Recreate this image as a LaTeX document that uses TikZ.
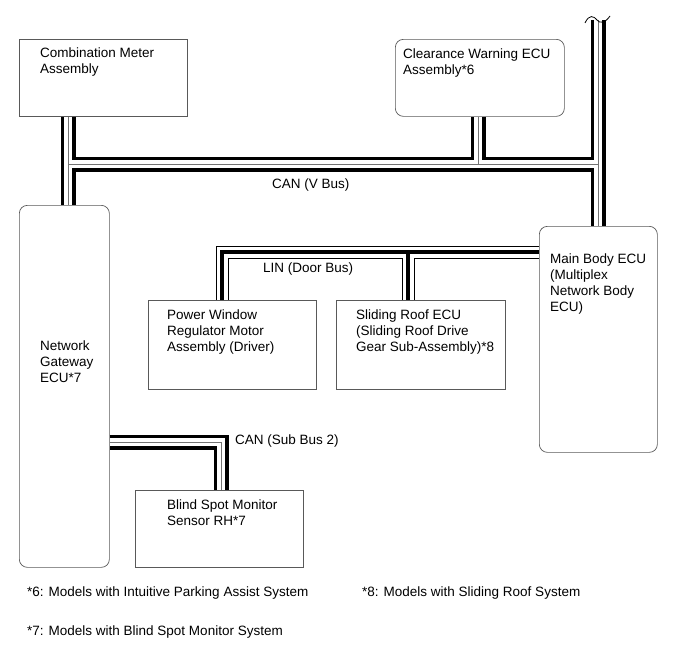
\documentclass[tikz,border=0pt]{standalone}
\usepackage{fontspec}
\setmainfont{Liberation Sans}
\usetikzlibrary{positioning, backgrounds}

\begin{document}
\begin{tikzpicture}[
  x=1pt, y=-1pt,
  box/.style   = {draw=black!65, line width=0.7pt, fill=white, inner sep=0pt,
                  anchor=north west},
  rbox/.style  = {box, rounded corners=8pt},
  txt/.style   = {font=\fontsize{13.5}{16}\selectfont, align=left, inner sep=0pt},
  lbl/.style   = {font=\fontsize{13.5}{16}\selectfont, inner sep=0pt, anchor=west},
  canout/.style   = {line width=15pt, black},
  canwhite/.style = {line width=8pt, white},
  cancore/.style  = {line width=0.8pt, black!55},
  linout/.style   = {line width=13pt, black},
  linwhite/.style = {line width=11pt, white},
  lincore/.style  = {line width=4pt, black},
]
\useasboundingbox (0,0) rectangle (690,659);

% ── Bus junction points ──────────────────────────────────────────────────────
\coordinate (cm)   at (68,164);
\coordinate (cw)   at (478,164);
\coordinate (cv)   at (598,164);
\coordinate (vtop) at (598,20);
\coordinate (lp)   at (222,252);
\coordinate (ls)   at (408,252);
\coordinate (sb)   at (221,442);

% ── ECU boxes ────────────────────────────────────────────────────────────────
\node[box,  minimum width=168pt, minimum height=77pt]  (meter)    at (19,39)  {};
\node[rbox, minimum width=169pt, minimum height=77pt]  (clear)    at (395,39) {};
\node[rbox, minimum width=90pt,  minimum height=362pt] (gateway)  at (19,205) {};
\node[box,  minimum width=168pt, minimum height=89pt]  (power)    at (148,300) {};
\node[box,  minimum width=169pt, minimum height=89pt]  (slide)    at (336,300) {};
\node[rbox, minimum width=118pt, minimum height=226pt] (mainbody) at (539,226) {};
\node[box,  minimum width=168pt, minimum height=77pt]  (blind)    at (135,490) {};

% ── Buses: black tube, white inside, core (behind the boxes) ─────────────────
\begin{scope}[on background layer]
\foreach \s in {out, white, core} {
  % CAN (V Bus)
  \draw[can\s] (meter.south -| cm) -- (gateway.north -| cm);
  \draw[can\s] (cm) -- (cv);
  \draw[can\s] (clear.south -| cw) -- (cw);
  \draw[can\s] (vtop) -- (mainbody.north -| cv);
  % CAN (Sub Bus 2)
  \draw[can\s] (gateway.east |- sb) -- (sb) -- (blind.north -| sb);
  % LIN (Door Bus)
  \draw[lin\s] (mainbody.west |- ls) -- (lp) -- (power.north -| lp);
  \draw[lin\s] (ls) -- (slide.north -| ls);
}
\end{scope}

% ── Break mark on top of the V bus ───────────────────────────────────────────
\draw[line width=0.8pt] (585,23) .. controls (589,14) and (594,16) .. (597,20)
  .. controls (600,24) and (605,23) .. (610,16);

% ── Box texts ────────────────────────────────────────────────────────────────
\node[txt, below right=9pt and 21pt of meter.north west]     (meter-t)
  {Combination Meter\\Assembly};
\node[txt, below right=10pt and 8pt of clear.north west]     (clear-t)
  {Clearance Warning ECU\\Assembly*6};
\node[txt, below right=136pt and 21pt of gateway.north west] (gateway-t)
  {Network\\Gateway\\ECU*7};
\node[txt, below right=10pt and 19pt of power.north west]    (power-t)
  {Power Window\\Regulator Motor\\Assembly (Driver)};
\node[txt, below right=10pt and 20pt of slide.north west]    (slide-t)
  {Sliding Roof ECU\\(Sliding Roof Drive\\Gear Sub-Assembly)*8};
\node[txt, below right=28pt and 11pt of mainbody.north west] (mainbody-t)
  {Main Body ECU\\(Multiplex\\Network Body\\ECU)};
\node[txt, below right=10pt and 32pt of blind.north west]    (blind-t)
  {Blind Spot Monitor\\Sensor RH*7};

% ── Bus labels ───────────────────────────────────────────────────────────────
\node[lbl] (canv-l) at (272,185) {CAN (V Bus)};
\node[lbl] (lin-l)  at (263,269) {LIN (Door Bus)};
\node[lbl] (sub-l)  at (235,441) {CAN (Sub Bus 2)};

% ── Notes ────────────────────────────────────────────────────────────────────
\node[lbl] (note6) at (27,593)  {*6: Models with Intuitive Parking Assist System};
\node[lbl] (note8) at (362,593) {*8: Models with Sliding Roof System};
\node[lbl] (note7) at (27,632)  {*7: Models with Blind Spot Monitor System};

\end{tikzpicture}
\end{document}
